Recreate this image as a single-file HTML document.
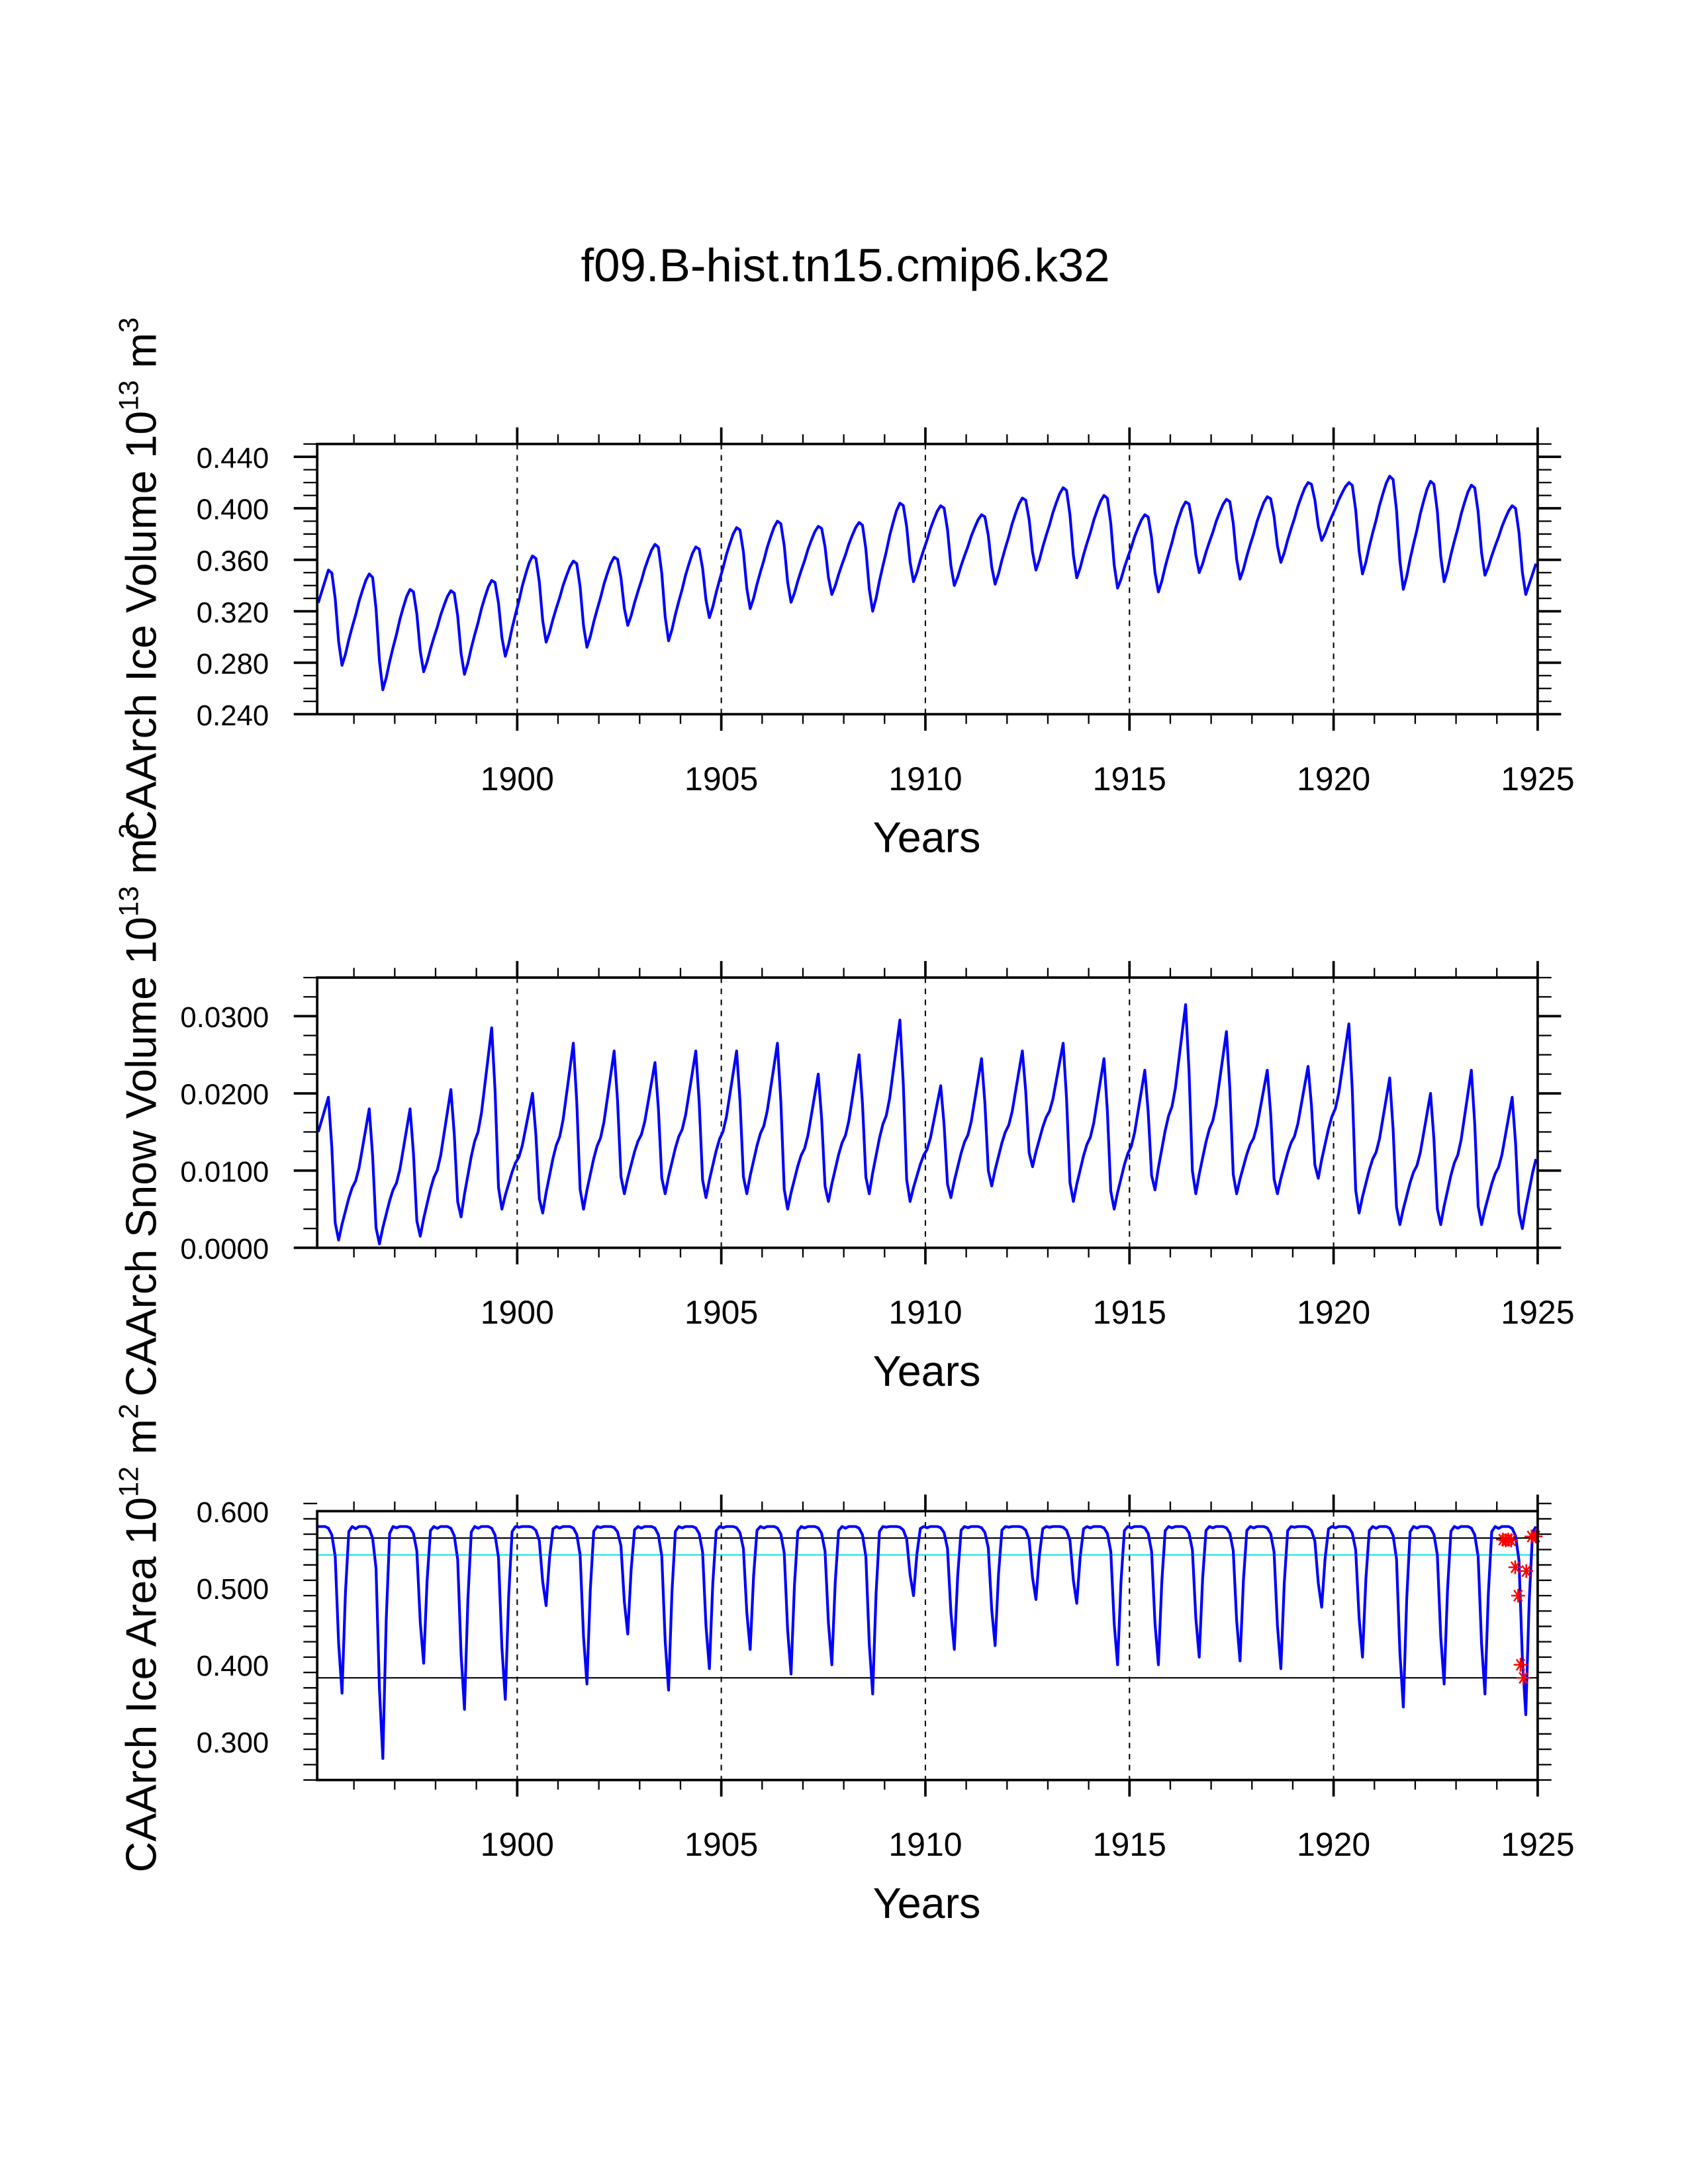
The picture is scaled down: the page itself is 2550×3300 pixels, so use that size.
<!DOCTYPE html>
<html><head><meta charset="utf-8"><style>
html,body{margin:0;padding:0;background:#fff}
svg{display:block}
text{font-family:"Liberation Sans",sans-serif;fill:#000}
</style></head><body>
<svg id="chart" width="2550" height="3300" viewBox="0 0 1224 1584" xmlns="http://www.w3.org/2000/svg">
<text x="613" y="204" font-size="34" text-anchor="middle">f09.B-hist.tn15.cmip6.k32</text>
<g id="plots"></g>
</svg>
<script>
// ---- data ----
const years = [1895,1896,1897,1898,1899,1900,1901,1902,1903,1904,1905,1906,1907,1908,1909,1910,1911,1912,1913,1914,1915,1916,1917,1918,1919,1920,1921,1922,1923,1924];
const volPeak = [0.352,0.349,0.337,0.336,0.344,0.363,0.359,0.362,0.372,0.370,0.385,0.390,0.386,0.389,0.404,0.402,0.395,0.408,0.416,0.410,0.395,0.405,0.407,0.409,0.420,0.420,0.425,0.421,0.418,0.402];
const volTrough = [0.278,0.259,0.273,0.271,0.285,0.296,0.292,0.309,0.297,0.315,0.322,0.327,0.333,0.320,0.343,0.340,0.341,0.352,0.346,0.338,0.335,0.350,0.345,0.358,0.375,0.349,0.337,0.343,0.348,0.333];
const volStart = 0.318, volEnd = 0.357;
const snowPeak = [0.0195,0.018,0.018,0.0205,0.0285,0.020,0.0265,0.0255,0.024,0.0255,0.0255,0.0265,0.0225,0.025,0.0295,0.021,0.0245,0.0255,0.0265,0.0245,0.023,0.0315,0.028,0.023,0.0235,0.029,0.022,0.020,0.023,0.0195];
const snowMin = [0.001,0.0005,0.0015,0.004,0.005,0.0045,0.005,0.007,0.007,0.0065,0.007,0.005,0.006,0.007,0.006,0.0065,0.008,0.0105,0.006,0.005,0.0075,0.007,0.007,0.007,0.009,0.0045,0.003,0.003,0.003,0.0025];
const snowStart = 0.0135, snowEnd = 0.010;
const areaMin = [0.363,0.278,0.402,0.342,0.355,0.477,0.375,0.44,0.367,0.395,0.42,0.388,0.40,0.362,0.49,0.42,0.425,0.485,0.48,0.40,0.40,0.41,0.405,0.395,0.475,0.41,0.345,0.375,0.362,0.335];
const areaMax = 0.58;
const refLines = [0.565, 0.543, 0.383];
const markX = [1924.15,1924.22,1924.28,1924.35,1924.45,1924.52,1924.58,1924.65,1924.72,1924.85,1924.95];
const markY = [0.563,0.562,0.563,0.562,0.527,0.49,0.40,0.383,0.522,0.567,0.567];
const xTicks = [1900,1905,1910,1915,1920,1925];
const volTicks = [0.240,0.280,0.320,0.360,0.400,0.440];
const snowTicks = [0.0,0.01,0.02,0.03];
const areaTicks = [0.3,0.4,0.5,0.6];
// ---- seasonal shapes (fractions) ----
const volRise = [0.55,0.7,0.82,0.93,1.0], volFall=[0.97,0.7,0.25,0.0], volRec=[0.12,0.28,0.42];
const snowShape = [0.45,0.55,0.7,0.85,1.0,0.65,0.12,0.0,0.12,0.22,0.32,0.4];
const areaDip = [0.01,0,0,0,0.01,0.05,0.18,0.7,1.0,0.4,0.03,0];

function buildVol(){
  const t=[],v=[];
  for(let i=0;i<years.length;i++){
    const prev = i===0? null : volTrough[i-1], pk=volPeak[i], tr=volTrough[i];
    for(let m=0;m<12;m++){
      let val;
      if(m<5){ val = i===0 ? volStart+(pk-volStart)*(m/4) : prev+(pk-prev)*volRise[m]; }
      else if(m<9){ val = pk-(pk-tr)*(1-volFall[m-5]); }
      else { val = i+1<years.length ? tr+(volPeak[i+1]-tr)*volRec[m-9] : tr+(volEnd-tr)*((m-8)/3); }
      t.push(years[i]+(m+0.5)/12); v.push(val);
    }
  }
  return [t,v];
}
function buildSnow(){
  const t=[],v=[];
  for(let i=0;i<years.length;i++){
    for(let m=0;m<12;m++){
      let val;
      const s=snowShape[m];
      if(m<5){ const base = i===0? snowStart : snowMin[i-1]; val = i===0 ? snowStart+(snowPeak[i]-snowStart)*(m/4) : base+(snowPeak[i]-base)*s; }
      else if(m<8){ val = snowMin[i]+(snowPeak[i]-snowMin[i])*s; }
      else { const nx = i+1<years.length? snowPeak[i+1] : snowEnd/0.4; val = snowMin[i]+(nx-snowMin[i])*s; }
      t.push(years[i]+(m+0.5)/12); v.push(val);
    }
  }
  return [t,v];
}
function buildArea(){
  const t=[],v=[];
  for(let i=0;i<years.length;i++){
    for(let m=0;m<12;m++){
      t.push(years[i]+(m+0.5)/12); v.push(areaMax-(areaMax-areaMin[i])*areaDip[m]);
    }
  }
  return [t,v];
}
const NS="http://www.w3.org/2000/svg";
const root=document.getElementById('plots');
function mk(tag,attrs,parent){const e=document.createElementNS(NS,tag);for(const k in attrs)e.setAttribute(k,attrs[k]);(parent||root).appendChild(e);return e;}
const X0=230,X1=1115,XMIN=1895.1,XMAX=1925;
const sx=x=>X0+(x-XMIN)/(XMAX-XMIN)*(X1-X0);

function panel(name,top,bot,ymin,ymax,ticks,minorStep,fmt,series,ytitle,titleY){
  const g=mk('g',{});
  
  
  const sy=y=>bot-(y-ymin)/(ymax-ymin)*(bot-top);
  for(const yr of [1900,1905,1910,1915,1920]){
    const l=mk('line',{x1:sx(yr),x2:sx(yr),y1:top,y2:bot,stroke:'#000','stroke-width':1,'stroke-dasharray':'4,4'},g);
    
    
  }
  if(series.extra) series.extra(g,sy);
  const [t,v]=series.data;
  let d='';
  for(let i=0;i<t.length;i++){ if(t[i]<XMIN) continue; d+=(d?'L':'M')+sx(t[i]).toFixed(2)+','+sy(v[i]).toFixed(2); }
  const p=mk('path',{d:d,fill:'none',stroke:'#0000ff','stroke-width':2,'stroke-linejoin':'round'},g);
  
  
  if(series.after) series.after(g,sy);
  const r=mk('rect',{x:X0,y:top,width:X1-X0,height:bot-top,fill:'none',stroke:'#000','stroke-width':1.8},g);
  
  
  for(let yr=1896;yr<=1925;yr++){
    const major=yr%5===0, L=major?12:7;
    mk('line',{x1:sx(yr),x2:sx(yr),y1:top,y2:top-L,stroke:'#000','stroke-width':major?1.8:1.1},g);
    mk('line',{x1:sx(yr),x2:sx(yr),y1:bot,y2:bot+L,stroke:'#000','stroke-width':major?1.8:1.1},g);
  }
  for(const yr of xTicks){
    const tx=mk('text',{x:sx(yr),y:bot+55,'font-size':24,'text-anchor':'middle'},g);
    tx.textContent=yr;
    
    
  }
  const xt=mk('text',{x:672,y:bot+100,'font-size':31,'text-anchor':'middle'},g);
  xt.textContent='Years';
  
  
  const n=Math.round((ymax-ymin)/minorStep);
  for(let k=0;k<=n;k++){
    const yv=ymin+k*minorStep, y=sy(yv);
    const major=ticks.some(tv=>Math.abs(tv-yv)<minorStep/10), L=major?17:10;
    mk('line',{x1:X0,x2:X0-L,y1:y,y2:y,stroke:'#000','stroke-width':major?1.8:1.1},g);
    mk('line',{x1:X1,x2:X1+L,y1:y,y2:y,stroke:'#000','stroke-width':major?1.8:1.1},g);
  }
  for(const tv of ticks){
    const tx=mk('text',{x:195,y:sy(tv)+8,'font-size':21,'text-anchor':'end'},g);
    tx.textContent=fmt(tv);
    
    
  }
  const yt=mk('text',{x:0,y:0,'font-size':31,'text-anchor':'middle',transform:`translate(113,${titleY}) rotate(-90)`},g);
  yt.innerHTML=ytitle;
  
  
}

panel('ice-volume',322,518,0.24,0.45,volTicks,0.01,v=>v.toFixed(3),{data:buildVol()},
 'CAArch Ice Volume 10<tspan font-size="20" dy="-13">13</tspan><tspan dy="13"> m</tspan><tspan font-size="20" dy="-13">3</tspan>',420);
panel('snow-volume',709,905,0,0.035,snowTicks,0.0025,v=>v.toFixed(4),{data:buildSnow()},
 'CAArch Snow Volume 10<tspan font-size="20" dy="-13">13</tspan><tspan dy="13"> m</tspan><tspan font-size="20" dy="-13">3</tspan>',805);
panel('ice-area',1096,1291,0.25,0.6,areaTicks,0.02,v=>v.toFixed(3),{data:buildArea(),
 extra:(g,sy)=>{
   refLines.forEach((rv,i)=>{
     const l=mk('line',{x1:X0,x2:X1,y1:sy(rv),y2:sy(rv),stroke:i===1?'#00e5e5':'#000','stroke-width':1},g);
     
     
   });
 },
 after:(g,sy)=>{
   for(let i=0;i<markX.length;i++){
     const cx=sx(markX[i]),cy=sy(markY[i]),s=5;
     const m=mk('path',{d:`M${cx-s},${cy}L${cx+s},${cy}M${cx-s*0.6},${cy-s*0.8}L${cx+s*0.6},${cy+s*0.8}M${cx-s*0.6},${cy+s*0.8}L${cx+s*0.6},${cy-s*0.8}M${cx},${cy-s}L${cx},${cy+s}`,stroke:'#ff0000','stroke-width':1.2,fill:'none'},g);
     
     
   }
 }},
 'CAArch Ice Area 10<tspan font-size="20" dy="-13">12</tspan><tspan dy="13"> m</tspan><tspan font-size="20" dy="-13">2</tspan>',1188);
</script>
</body></html>
